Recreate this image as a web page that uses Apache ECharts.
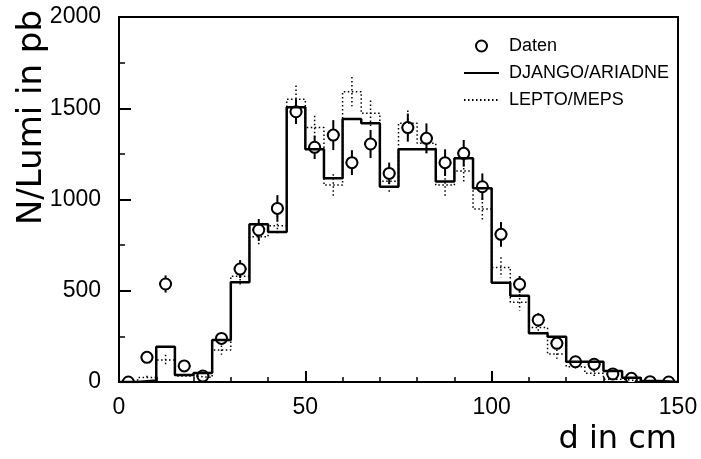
<!DOCTYPE html>
<html>
<head>
<meta charset="utf-8">
<script src="https://cdn.jsdelivr.net/npm/echarts@6/dist/echarts.min.js"></script>
<style>html,body{margin:0;padding:0;background:#fff;}#c{width:701px;height:459px;}</style>
</head>
<body>
<div id="c"></div>
<script>
// bin centres (cm) and bin edges (cm)
const binCenters = [2.5,7.5,12.5,17.5,22.5,27.5,32.5,37.5,42.5,47.5,52.5,57.5,62.5,67.5,72.5,77.5,82.5,87.5,92.5,97.5,102.5,107.5,112.5,117.5,122.5,127.5,132.5,137.5,142.5,147.5];
const binEdges = [0,5,10,15,20,25,30,35,40,45,50,55,60,65,70,75,80,85,90,95,100,105,110,115,120,125,130,135,140,145,150];
// Daten
const datenY   = [0,135,537,88,33,239,619,833,951,1481,1286,1353,1202,1304,1143,1394,1335,1202,1253,1070,809,535,340,212,111,97,44,20,2,0];
const datenErr = [0,25,47,20,15,25,49,60,73,67,64,82,68,77,59,77,82,73,73,73,68,46,37,30,20,20,15,10,5,0];
// DJANGO/ARIADNE
const django = [0,8,193,38,50,230,546,864,822,1505,1275,1116,1441,1418,1070,1275,1275,1098,1226,1061,544,473,267,248,111,111,60,23,5,0];
// LEPTO/MEPS
const lepto    = [0,24,120,33,25,175,580,796,856,1549,1394,1079,1591,1472,1100,1418,1308,1079,1156,948,628,437,298,153,84,48,15,5,2,0];
const leptoErr = [0,10,30,10,10,25,50,55,55,75,65,60,80,70,60,70,65,60,60,60,55,45,35,25,20,15,8,5,3,0];
// axis ticks
const xTicks = [0,50,100,150];
const yTicks = [0,500,1000,1500,2000];

function stepData(vals){
  const d = vals.map((v,i)=>[binEdges[i], v]);
  d.push([binEdges[binEdges.length-1], vals[vals.length-1]]);
  return d;
}

const FONT = 'Liberation Sans';
const chart = echarts.init(document.getElementById('c'), null, {renderer:'canvas'});
const XW = 1.7;
const R = 5.5;

chart.setOption({
  animation:false,
  backgroundColor:'#fff',
  grid:{left:119,right:23,top:17,bottom:77,show:true,borderColor:'#000',borderWidth:2,backgroundColor:'transparent'},
  xAxis:{type:'value',min:xTicks[0],max:xTicks[xTicks.length-1],interval:50,
    axisLine:{show:true,lineStyle:{color:'#000',width:2}},
    axisTick:{show:true,inside:true,length:11,lineStyle:{color:'#000',width:2}},
    minorTick:{show:true,splitNumber:5,length:5,lineStyle:{color:'#000',width:1.5}},
    axisLabel:{color:'#000',fontFamily:FONT,fontSize:23,margin:14,formatter:function(v){return String(v);}},
    splitLine:{show:false}},
  yAxis:{type:'value',min:yTicks[0],max:yTicks[yTicks.length-1],interval:500,
    axisLine:{show:true,lineStyle:{color:'#000',width:2}},
    axisTick:{show:true,inside:true,length:12,lineStyle:{color:'#000',width:2}},
    minorTick:{show:true,splitNumber:2,length:6,lineStyle:{color:'#000',width:1.5}},
    axisLabel:{color:'#000',fontFamily:FONT,fontSize:23,margin:18,formatter:function(v){return String(v);}},
    splitLine:{show:false}},
  legend:{
    orient:'vertical',left:458,top:32,itemWidth:35,itemHeight:11,itemGap:9,
    data:[
      {name:'Daten',icon:'circle',itemStyle:{color:'#fff',borderColor:'#000',borderWidth:2}},
      {name:'DJANGO/ARIADNE',itemStyle:{opacity:0}},
      {name:'LEPTO/MEPS',itemStyle:{opacity:0}}
    ],
    textStyle:{color:'#000',fontFamily:FONT,fontSize:18,padding:[0,0,0,5]}
  },
  graphic:[
    {type:'text',x:32,y:10,rotation:Math.PI/2,
      style:{text:'N/Lumi in pb',fill:'#000',font:'34px "DejaVu Sans"',textAlign:'right',textVerticalAlign:'middle'}},
    {type:'text',x:677,y:440,
      style:{text:'d in cm',fill:'#000',font:'32px "DejaVu Sans"',textAlign:'right',textVerticalAlign:'middle'}}
  ],
  series:[
    {name:'lepto-err',type:'custom',z:2,silent:true,
      data:binCenters.map((x,i)=>[x,lepto[i],leptoErr[i]]),
      renderItem:function(params,api){
        const x=api.value(0),y=api.value(1),e=api.value(2);
        if(e<=0) return null;
        const a=api.coord([x,y+e]), b=api.coord([x,y-e]);
        return {type:'line',shape:{x1:a[0],y1:a[1],x2:b[0],y2:b[1]},
          style:{stroke:'#000',lineWidth:1.5,lineDash:[1.5,2.5]}};
      }},
    {name:'Daten',type:'custom',z:3,clip:true,
      itemStyle:{color:'#fff',borderColor:'#000',borderWidth:2},
      data:binCenters.map((x,i)=>[x,datenY[i],datenErr[i]]),
      renderItem:function(params,api){
        const x=api.value(0),y=api.value(1),e=api.value(2);
        const c=api.coord([x,y]);
        const a=api.coord([x,y+e]), b=api.coord([x,y-e]);
        const l=api.coord([x-XW,y]), r=api.coord([x+XW,y]);
        return {type:'group',children:[
          {type:'line',shape:{x1:a[0],y1:a[1],x2:b[0],y2:b[1]},style:{stroke:'#000',lineWidth:2}},
          {type:'line',shape:{x1:l[0],y1:l[1],x2:r[0],y2:r[1]},style:{stroke:'#000',lineWidth:2}},
          {type:'circle',shape:{cx:c[0],cy:c[1],r:R},style:{fill:'#fff',stroke:'#000',lineWidth:2}}
        ]};
      }},
    {name:'DJANGO/ARIADNE',type:'line',z:5,step:'end',showSymbol:false,symbol:'none',
      data:stepData(django),
      lineStyle:{color:'#000',width:2.5},itemStyle:{color:'#000'}},
    {name:'LEPTO/MEPS',type:'line',z:5,step:'end',showSymbol:false,symbol:'none',
      data:stepData(lepto),
      lineStyle:{color:'#000',width:1.5,type:[1.5,2.5]},itemStyle:{color:'#000'}}
  ]
});
</script>
</body>
</html>
